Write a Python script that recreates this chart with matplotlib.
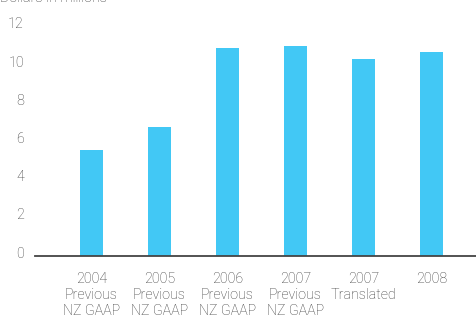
import matplotlib
matplotlib.use("Agg")
import matplotlib.pyplot as plt
from matplotlib.transforms import ScaledTranslation

categories = ["2004\nPrevious\nNZ GAAP", "2005\nPrevious\nNZ GAAP", "2006\nPrevious\nNZ GAAP",
              "2007\nPrevious\nNZ GAAP", "2007\nTranslated", "2008"]
values = [5.55, 6.75, 10.9, 11.0, 10.3, 10.7]
yticks = [0, 2, 4, 6, 8, 10, 12]

plt.rcParams['font.family'] = ['Roboto', 'DejaVu Sans']
W, H = 476, 315
fig = plt.figure(figsize=(W / 100, H / 100), dpi=100)
ax = fig.add_axes([35 / W, (H - 256) / H, 1 - 35 / W, (256 - 26.8) / H])

x = list(range(len(categories)))
ax.bar(x, values, width=23 / 68, color="#42C8F5", zorder=2)
ax.set_xlim((35 - 91.5) / 68, (476 - 91.5) / 68)
ax.set_ylim(0, 12)
ax.set_yticks(yticks)
ax.set_yticklabels([str(t) for t in yticks])
ax.set_xticks(x)
ax.set_xticklabels(categories, linespacing=1.2)

for s in ["top", "right", "left"]:
    ax.spines[s].set_visible(False)
ax.spines["bottom"].set_color("#444444")
ax.spines["bottom"].set_linewidth(1.3)
ax.tick_params(axis="both", length=0, labelsize=10.3, labelcolor="#3a3a3a")
ax.tick_params(axis="y", pad=8)
ax.tick_params(axis="x", pad=11.5)
off = ScaledTranslation(0, 4 / 100, fig.dpi_scale_trans)
for lab in ax.get_yticklabels():
    lab.set_transform(lab.get_transform() + off)
    lab.set_fontweight("light")
for lab in ax.get_xticklabels():
    lab.set_fontweight("light")

fig.text(0, 1 - 2 / H, "Dollars in millions", fontsize=10.3, color="#3a3a3a",
         fontweight="light", ha="left", va="baseline")

fig.savefig("out.png", dpi=100)
